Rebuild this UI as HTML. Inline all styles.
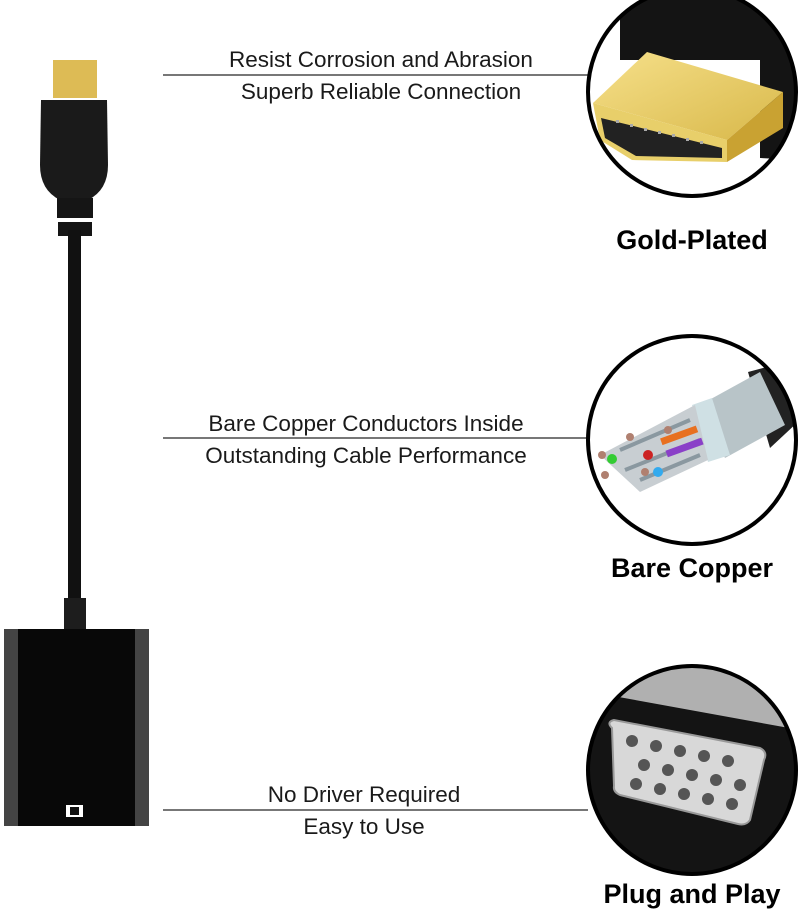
<!DOCTYPE html>
<html><head><meta charset="utf-8"><style>
html,body{margin:0;padding:0;background:#fff;width:800px;height:913px;overflow:hidden}
svg{display:block}
text{font-family:"Liberation Sans",sans-serif;fill:#1a1a1a}
</style></head><body>
<svg width="800" height="913" viewBox="0 0 800 913" xmlns="http://www.w3.org/2000/svg">
<defs>
<clipPath id="c1"><circle cx="692" cy="92" r="104"/></clipPath>
<clipPath id="c2"><circle cx="692" cy="440" r="104"/></clipPath>
<clipPath id="c3"><circle cx="692" cy="770" r="104"/></clipPath>
<linearGradient id="gold" x1="0" y1="0" x2="1" y2="1"><stop offset="0" stop-color="#f6e08a"/><stop offset="1" stop-color="#d8b84a"/></linearGradient>
</defs>
<!-- HDMI connector -->
<rect x="53" y="60" width="44" height="38" fill="#ddbb55"/>
<path d="M41 100 L107 100 L108 165 Q108 190 88 200 L60 200 Q40 190 40 165 Z" fill="#1a1a1a"/>
<rect x="57" y="198" width="36" height="20" fill="#151515"/>
<rect x="58" y="222" width="34" height="14" fill="#151515"/>
<rect x="68" y="230" width="13" height="380" fill="#111"/>
<rect x="64" y="598" width="22" height="32" fill="#1d1d1d"/>
<!-- adapter box -->
<rect x="4" y="629" width="145" height="197" fill="#080808"/>
<rect x="4" y="629" width="14" height="197" fill="#444"/>
<rect x="135" y="629" width="14" height="197" fill="#444"/>
<rect x="66" y="805" width="17" height="12" fill="#fff"/>
<rect x="70" y="807" width="9" height="8" fill="#111"/>
<!-- lines -->
<rect x="163" y="74" width="425" height="2" fill="#777"/>
<rect x="163" y="437" width="425" height="2" fill="#777"/>
<rect x="163" y="809" width="425" height="2" fill="#777"/>
<g font-size="22.5" text-anchor="middle">
<text x="381" y="67">Resist Corrosion and Abrasion</text>
<text x="381" y="99">Superb Reliable Connection</text>
<text x="366" y="431">Bare Copper Conductors Inside</text>
<text x="366" y="463">Outstanding Cable Performance</text>
<text x="364" y="802">No Driver Required</text>
<text x="364" y="834">Easy to Use</text>
</g>
<!-- circle 1 -->
<g clip-path="url(#c1)">
<rect x="580" y="-20" width="230" height="220" fill="#fff"/>
<path d="M620 0 L800 0 L800 160 L760 158 L760 60 L620 60 Z" fill="#141414"/>
<path d="M593 103 L647 52 L783 92 L727 140 Z" fill="url(#gold)"/>
<path d="M727 140 L783 92 L783 128 L727 162 Z" fill="#c9a232"/>
<path d="M593 103 L727 140 L727 162 L632 160 L600 140 Z" fill="#e8cf6a"/>
<path d="M601 118 L722 148 L722 158 L636 156 L605 138 Z" fill="#222"/>
<g fill="#aaa"><rect x="616" y="120" width="3" height="3"/><rect x="630" y="124" width="3" height="3"/><rect x="644" y="128" width="3" height="3"/><rect x="658" y="131" width="3" height="3"/><rect x="672" y="134" width="3" height="3"/><rect x="686" y="138" width="3" height="3"/><rect x="700" y="141" width="3" height="3"/></g>
</g>
<circle cx="692" cy="92" r="104" fill="none" stroke="#000" stroke-width="4"/>
<!-- circle 2 -->
<g clip-path="url(#c2)">
<rect x="580" y="330" width="230" height="220" fill="#fff"/>
<path d="M748 372 L785 362 L800 420 L770 448 Z" fill="#222"/>
<path d="M700 405 L760 372 L785 425 L725 458 Z" fill="#b8c4c8"/>
<path d="M692 405 L712 398 L730 455 L708 462 Z" fill="#cfe0e4"/>
<path d="M600 455 L695 405 L708 460 L640 492 Z" fill="#c8ced2"/>
<path d="M620 450 L690 420 M625 470 L700 440 M640 480 L700 455" stroke="#8a98a0" stroke-width="4"/>
<rect x="660" y="428" width="38" height="7" fill="#e87020" transform="rotate(-20 690 433)"/>
<rect x="665" y="442" width="38" height="7" fill="#8a40c8" transform="rotate(-20 690 445)"/>
<circle cx="612" cy="459" r="5" fill="#3c3"/>
<circle cx="648" cy="455" r="5" fill="#c22"/>
<circle cx="658" cy="472" r="5" fill="#3ae"/>
<g fill="#b08070"><circle cx="602" cy="455" r="4"/><circle cx="605" cy="475" r="4"/><circle cx="630" cy="437" r="4"/><circle cx="668" cy="430" r="4"/><circle cx="645" cy="472" r="4"/></g>
</g>
<circle cx="692" cy="440" r="104" fill="none" stroke="#000" stroke-width="4"/>
<!-- circle 3 -->
<g clip-path="url(#c3)">
<rect x="580" y="660" width="230" height="220" fill="#b0b0b0"/>
<path d="M580 690 L800 730 L800 880 L580 880 Z" fill="#141414"/>
<path d="M612 728 Q606 722 614 720 L760 748 Q768 752 764 760 L750 820 Q746 826 738 824 L620 795 Q613 792 614 786 Z" fill="#d8d8d8" stroke="#999" stroke-width="2"/>
<g fill="#555">
<circle cx="632" cy="741" r="6"/><circle cx="656" cy="746" r="6"/><circle cx="680" cy="751" r="6"/><circle cx="704" cy="756" r="6"/><circle cx="728" cy="761" r="6"/>
<circle cx="644" cy="765" r="6"/><circle cx="668" cy="770" r="6"/><circle cx="692" cy="775" r="6"/><circle cx="716" cy="780" r="6"/><circle cx="740" cy="785" r="6"/>
<circle cx="636" cy="784" r="6"/><circle cx="660" cy="789" r="6"/><circle cx="684" cy="794" r="6"/><circle cx="708" cy="799" r="6"/><circle cx="732" cy="804" r="6"/>
</g>
</g>
<circle cx="692" cy="770" r="104" fill="none" stroke="#000" stroke-width="4"/>
<g font-size="27" font-weight="bold" text-anchor="middle">
<text x="692" y="249" style="fill:#000">Gold-Plated</text>
<text x="692" y="577" style="fill:#000">Bare Copper</text>
<text x="692" y="903" style="fill:#000">Plug and Play</text>
</g>
</svg>
</body></html>
